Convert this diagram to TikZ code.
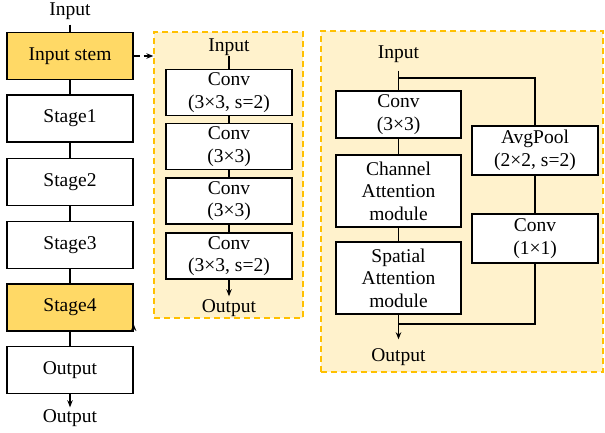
\documentclass[tikz,border=0pt]{standalone}
\usepackage{fontspec}
\setmainfont{Liberation Serif}
\usetikzlibrary{positioning,calc,arrows.meta}

\definecolor{stemfill}{HTML}{FFD966}
\definecolor{panelfill}{HTML}{FFF2CC}
\definecolor{paneldraw}{HTML}{FFC000}

\begin{document}
\begin{tikzpicture}[x=1pt,y=-1pt, font=\rmfamily\fontsize{19.5}{22.5}\selectfont]
		\useasboundingbox (0,0) rectangle (605,432);
		
		% ===== styles =====
		\tikzset{
			blk/.style={draw=black, line width=1.2pt, fill=white, minimum width=126pt, minimum height=47pt, inner sep=0pt, align=center},
			hot/.style={blk, fill=stemfill},
			panel/.style={draw=paneldraw, fill=panelfill, dash pattern=on 6pt off 4pt, line width=1.3pt, inner sep=0pt},
			lbl/.style={inner sep=0pt},
			wire/.style={line width=1.1pt},
			arr/.style={wire, -{Stealth[length=7pt,width=5.5pt]}},
			jump/.style={wire, dash pattern=on 6pt off 4pt, -{Stealth[length=7pt,width=5.5pt]}}
		}
		
		% ===== panels (behind) =====
		\node[panel, minimum width=149pt, minimum height=286pt] (mid) at (228.5,175) {};
		\node[panel, minimum width=282pt, minimum height=341pt] (rgt) at (462,201.5) {};
		
		% ===== left column =====
		\node[lbl] (inL) at (70,11) {Input};
		\node[hot] (stem) at (70,56) {Input stem};
		\foreach \nm/\txt/\yy in {st1/Stage1/118.5, st2/Stage2/182, st3/Stage3/245}{
			\node[blk] (\nm) at (70,\yy) {\txt};
		}
		\node[hot] (st4) at (70,307.5) {Stage4};
		\node[blk] (outB) at (70,370) {Output};
		\node[lbl] (outL) at (70,418) {Output};
		
		\draw[wire, shorten <=5pt] (inL) -- (stem);
		\foreach \a/\b in {stem/st1, st1/st2, st2/st3, st3/st4, st4/outB}{
			\draw[wire] (\a) -- (\b);
		}
		\draw[arr, shorten >=2pt] (outB) -- (outL);
		
		% ===== input stem panel =====
		\node[lbl] (inM) at (229,47) {Input};
		\node[blk, minimum height=46pt] (cv1) at (229,92.5) {Conv\\(3×3, s=2)};
		\node[blk, minimum height=46pt] (cv2) at (229,146.5) {Conv\\(3×3)};
		\node[blk, minimum height=46pt] (cv3) at (229,201) {Conv\\(3×3)};
		\node[blk, minimum height=46pt] (cv4) at (229,256) {Conv\\(3×3, s=2)};
		\node[lbl] (outM) at (229,308) {Output};
		
		\draw[wire] (inM) -- (cv1);
		\foreach \a/\b in {cv1/cv2, cv2/cv3, cv3/cv4}{
			\draw[wire] (\a) -- (\b);
		}
		\draw[arr, shorten >=3pt] (cv4) -- (outM);
		
		% ===== stage4 panel =====
		\node[lbl] (inR) at (398.5,54) {Input};
		\node[blk, minimum width=125pt] (cv33) at (398.5,114.5) {Conv\\(3×3)};
		\node[blk, minimum width=125pt, minimum height=72pt] (cam) at (398.5,191) {Channel\\Attention\\module};
		\node[blk, minimum width=125pt, minimum height=72pt] (sam) at (398.5,278) {Spatial\\Attention\\module};
		\node[blk, minimum height=49pt] (avg) at (535,150.5) {AvgPool\\(2×2, s=2)};
		\node[blk, minimum height=49pt] (cv11) at (535,238.5) {Conv\\(1×1)};
		\node[lbl] (outR) at (398.5,357) {Output};
		\coordinate (split) at (398.5,78);
		\coordinate (merge) at (398.5,324);
		
		\draw[wire, shorten <=8pt] (inR) -- (cv33);
		\draw[wire] (split) -| (avg);
		\draw[wire] (avg) -- (cv11);
		\draw[wire] (cv11) |- (merge);
		\draw[wire] (cv33) -- (cam);
		\draw[wire] (cam) -- (sam);
		\draw[arr, shorten >=9pt] (sam) -- (outR);
		
		% ===== dashed links =====
		\draw[jump] (stem.east) -- (stem.east -| mid.west);
		\draw[jump] ($(st4.east)+(0,16.5)$) -- ($(st4.east)+(0,16.5)$ -| rgt.west);
		
	\end{tikzpicture}
\end{document}
